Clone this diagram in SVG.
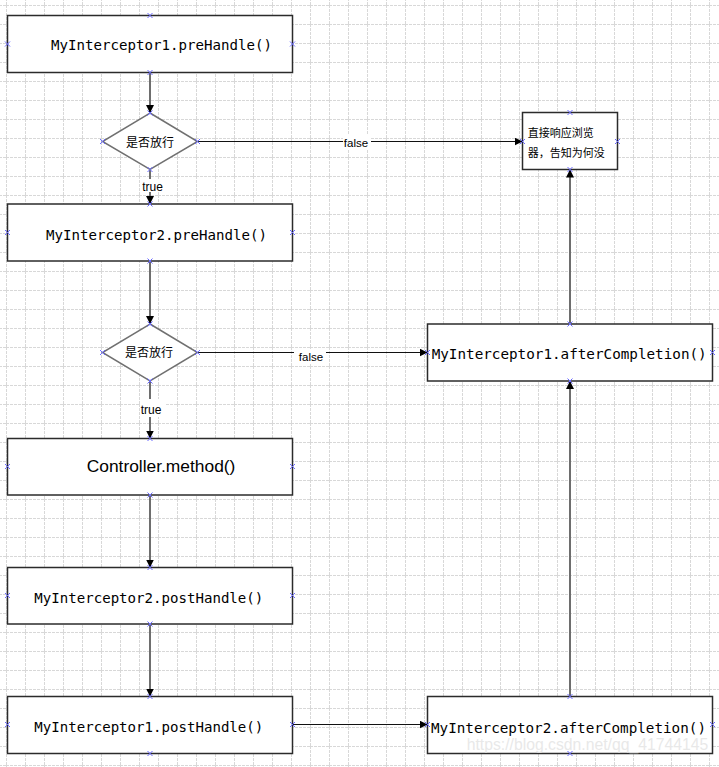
<svg xmlns="http://www.w3.org/2000/svg" xmlns:xlink="http://www.w3.org/1999/xlink" width="719" height="767" viewBox="0 0 719 767">
<style>
.box{fill:#fff;stroke:#2b2b2b;stroke-width:1.5}
.dia{fill:#fff;stroke:#707070;stroke-width:1.5}
.mono{font-family:"DejaVu Sans Mono","Liberation Mono",monospace;font-size:14.5px;fill:#000}
.sans{font-family:"Liberation Sans",Arial,sans-serif;fill:#000}
.cjk{font-family:"Noto Sans CJK SC","Noto Sans",sans-serif;fill:#000}
.vline{fill:none;stroke:#6e6e6e;stroke-width:2}
.thin{fill:none;stroke:#111;stroke-width:1.2}
.lbl{fill:#fff}
.wm{font-family:"Liberation Sans",Arial,sans-serif;font-size:16px;fill:#e4e4e4;fill-opacity:0.85}
</style>
<defs>
<pattern id="grid" patternUnits="userSpaceOnUse" x="6" y="5" width="19" height="19">
<path d="M0.5 0 V19 M0 0.5 H19" fill="none" stroke="#d8d8d8" stroke-width="1" stroke-dasharray="3,1"/>
</pattern>
<marker id="arr" viewBox="0 0 10 10" refX="10" refY="5" markerWidth="8" markerHeight="8" markerUnits="userSpaceOnUse" orient="auto">
<path d="M0,0 L10,5 L0,10 z" fill="#000"/>
</marker>
<path id="xm" d="M-2.5,-2.5 L2.5,2.5 M-2.5,2.5 L2.5,-2.5" fill="none" stroke="#6b6bff" stroke-width="1"/>
</defs>
<rect x="0" y="0" width="719" height="767" fill="#fff"/>
<rect x="0" y="0" width="719" height="767" fill="url(#grid)"/>

<g id="connectors">
<path class="vline" d="M150 72.5 V113" marker-end="url(#arr)"/>
<path class="vline" d="M150 169.5 V204" marker-end="url(#arr)"/>
<path class="vline" d="M150 261 V324" marker-end="url(#arr)"/>
<path class="vline" d="M150 381 V438.5" marker-end="url(#arr)"/>
<path class="vline" d="M150 495 V567.5" marker-end="url(#arr)"/>
<path class="vline" d="M150 624 V696.5" marker-end="url(#arr)"/>
<path class="thin" d="M197.5 141.5 H522.5" marker-end="url(#arr)"/>
<path class="thin" d="M197.5 352.5 H427.5" marker-end="url(#arr)"/>
<path class="vline" d="M570 324 V169.5" marker-end="url(#arr)"/>
<path class="vline" d="M570 696.5 V381" marker-end="url(#arr)"/>
<path class="thin" d="M292.5 724.5 H427.5" marker-end="url(#arr)"/>
<rect class="lbl" x="142" y="179" width="22" height="13"/>
<text class="sans" x="152.5" y="190.5" font-size="12" text-anchor="middle">true</text>
<rect class="lbl" x="140" y="399" width="25" height="18"/>
<text class="sans" x="151" y="414" font-size="12" text-anchor="middle">true</text>
<rect class="lbl" x="343" y="135" width="28" height="14"/>
<text class="sans" x="356" y="146.5" font-size="11.5" text-anchor="middle">false</text>
<rect class="lbl" x="294" y="349" width="32" height="15"/>
<text class="sans" x="311" y="361" font-size="11.5" text-anchor="middle">false</text>
</g>

<g id="n1">
<rect class="box" x="7.5" y="15.5" width="285" height="57"/>
<text class="mono" x="51" y="50" textLength="221" lengthAdjust="spacingAndGlyphs">MyInterceptor1.preHandle()</text>
<use xlink:href="#xm" x="150" y="15.5"/><use xlink:href="#xm" x="7.5" y="44"/><use xlink:href="#xm" x="292.5" y="44"/><use xlink:href="#xm" x="150" y="72.5"/>
</g>

<g id="d1">
<polygon class="dia" points="150,113 197.5,141.5 150,169.5 102.5,141.5"/>
<text class="cjk" x="150" y="146.5" font-size="12" text-anchor="middle">是否放行</text>
<use xlink:href="#xm" x="150" y="113"/><use xlink:href="#xm" x="102.5" y="141.5"/><use xlink:href="#xm" x="197.5" y="141.5"/><use xlink:href="#xm" x="150" y="169.5"/>
</g>

<g id="n2">
<rect class="box" x="7.5" y="204" width="285" height="57"/>
<text class="mono" x="46" y="240" textLength="221" lengthAdjust="spacingAndGlyphs">MyInterceptor2.preHandle()</text>
<use xlink:href="#xm" x="150" y="204"/><use xlink:href="#xm" x="7.5" y="232.5"/><use xlink:href="#xm" x="292.5" y="232.5"/><use xlink:href="#xm" x="150" y="261"/>
</g>

<g id="d2">
<polygon class="dia" points="150,324 197.5,352.5 150,381 102.5,352.5"/>
<text class="cjk" x="149" y="357" font-size="12" text-anchor="middle">是否放行</text>
<use xlink:href="#xm" x="150" y="324"/><use xlink:href="#xm" x="102.5" y="352.5"/><use xlink:href="#xm" x="197.5" y="352.5"/><use xlink:href="#xm" x="150" y="381"/>
</g>

<g id="n3">
<rect class="box" x="7.5" y="438.5" width="285" height="56.5"/>
<text class="sans" x="86.7" y="471.7" font-size="16" textLength="148.7" lengthAdjust="spacingAndGlyphs">Controller.method()</text>
<use xlink:href="#xm" x="150" y="438.5"/><use xlink:href="#xm" x="7.5" y="466.5"/><use xlink:href="#xm" x="292.5" y="466.5"/><use xlink:href="#xm" x="150" y="495"/>
</g>

<g id="n4">
<rect class="box" x="7.5" y="567.5" width="285" height="56.5"/>
<text class="mono" x="34.3" y="602.7" textLength="229" lengthAdjust="spacingAndGlyphs">MyInterceptor2.postHandle()</text>
<use xlink:href="#xm" x="150" y="567.5"/><use xlink:href="#xm" x="7.5" y="595.5"/><use xlink:href="#xm" x="292.5" y="595.5"/><use xlink:href="#xm" x="150" y="624"/>
</g>

<g id="n5">
<rect class="box" x="7.5" y="696.5" width="285" height="57"/>
<text class="mono" x="34.3" y="731.7" textLength="229" lengthAdjust="spacingAndGlyphs">MyInterceptor1.postHandle()</text>
<use xlink:href="#xm" x="150" y="696.5"/><use xlink:href="#xm" x="7.5" y="724.5"/><use xlink:href="#xm" x="292.5" y="724.5"/><use xlink:href="#xm" x="150" y="753.5"/>
</g>

<g id="n6">
<rect class="box" x="427.5" y="696.5" width="285" height="57"/>
<text class="mono" x="431" y="733.3" textLength="275" lengthAdjust="spacingAndGlyphs">MyInterceptor2.afterCompletion()</text>
<use xlink:href="#xm" x="570" y="696.5"/><use xlink:href="#xm" x="427.5" y="724.5"/><use xlink:href="#xm" x="712.5" y="724.5"/><use xlink:href="#xm" x="570" y="753.5"/>
</g>

<g id="n7">
<rect class="box" x="427.5" y="324" width="285" height="57"/>
<text class="mono" x="431.7" y="359" textLength="275" lengthAdjust="spacingAndGlyphs">MyInterceptor1.afterCompletion()</text>
<use xlink:href="#xm" x="570" y="324"/><use xlink:href="#xm" x="427.5" y="352.5"/><use xlink:href="#xm" x="712.5" y="352.5"/><use xlink:href="#xm" x="570" y="381"/>
</g>

<g id="n8">
<rect class="box" x="522.5" y="112.5" width="95" height="57"/>
<text class="cjk" x="527.7" y="136.5" font-size="11">直接响应浏览</text>
<text class="cjk" x="527.7" y="156.5" font-size="11">器，告知为何没</text>
<use xlink:href="#xm" x="570" y="112.5"/><use xlink:href="#xm" x="522.5" y="141.5"/><use xlink:href="#xm" x="617.5" y="141.5"/><use xlink:href="#xm" x="570" y="169.5"/>
</g>

<text class="wm" x="466.7" y="750" textLength="241.6" lengthAdjust="spacingAndGlyphs">https://blog.csdn.net/qq_41744145</text>
</svg>
